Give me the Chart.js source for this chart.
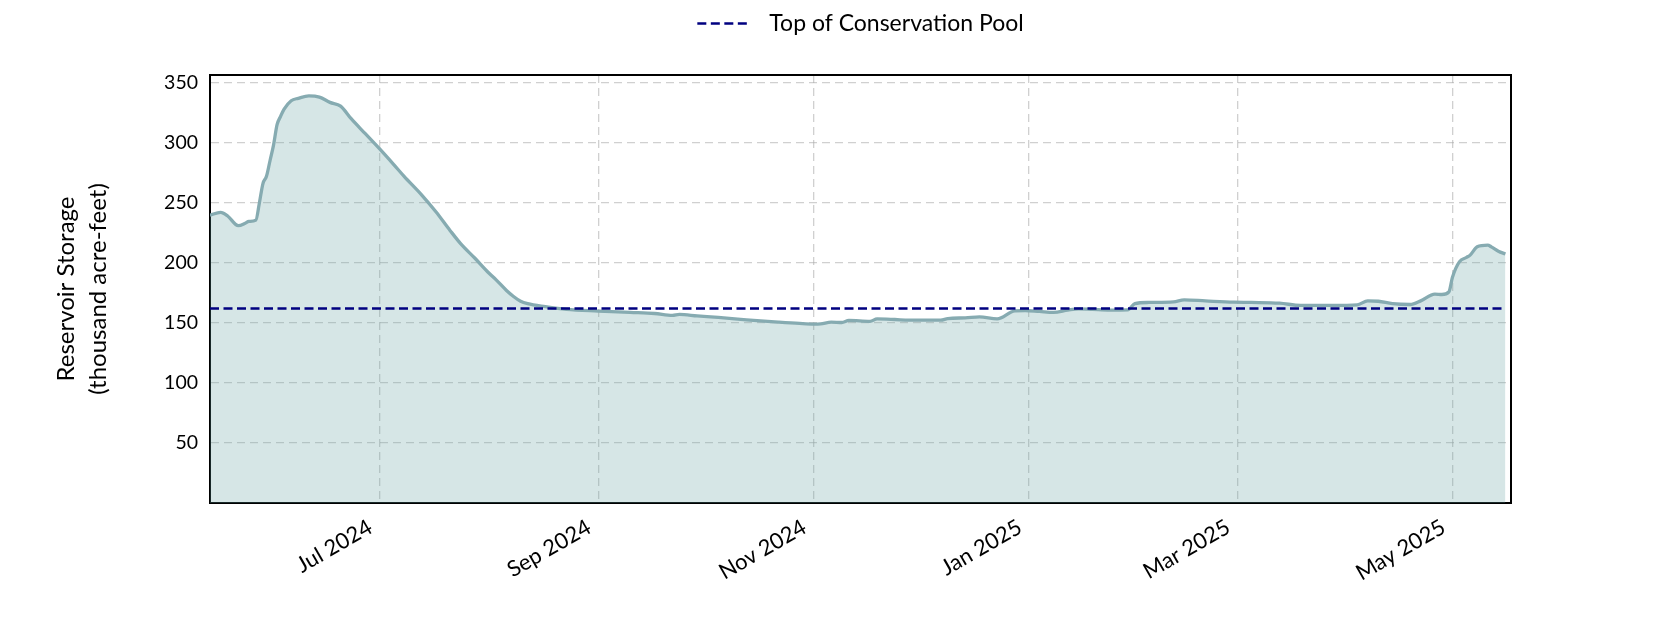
<!DOCTYPE html>
<html>
<head>
<meta charset="utf-8">
<script src="https://cdn.jsdelivr.net/npm/chart.js@4.4.1/dist/chart.umd.min.js"></script>
<style>
  html, body { margin: 0; padding: 0; background: #ffffff; }
  #wrap { width: 1680px; height: 630px; }
</style>
</head>
<body>
<div id="wrap"><canvas id="c" width="1680" height="630"></canvas></div>
<script>
// ---- data ----
const dates = [
  '2024-05-14','2024-05-17','2024-05-19','2024-05-22','2024-05-24','2024-05-25','2024-05-27','2024-05-28',
  '2024-05-29','2024-05-30','2024-05-31','2024-06-01','2024-06-02','2024-06-03','2024-06-04','2024-06-06',
  '2024-06-08','2024-06-11','2024-06-14','2024-06-17','2024-06-20','2024-06-23','2024-06-27','2024-07-01',
  '2024-07-05','2024-07-08','2024-07-13','2024-07-17','2024-07-21','2024-07-24','2024-07-28','2024-08-01',
  '2024-08-03','2024-08-06','2024-08-08','2024-08-10','2024-08-12','2024-08-17','2024-08-23','2024-09-01',
  '2024-09-10','2024-09-17','2024-09-22','2024-09-24','2024-09-29','2024-10-05','2024-10-13','2024-10-22',
  '2024-10-28','2024-11-01','2024-11-03','2024-11-06','2024-11-09','2024-11-11','2024-11-17','2024-11-19',
  '2024-11-24','2024-11-28','2024-12-07','2024-12-09','2024-12-14','2024-12-18','2024-12-23','2024-12-28',
  '2024-12-31','2025-01-04','2025-01-08','2025-01-12','2025-01-15','2025-01-19','2025-01-24','2025-01-29',
  '2025-01-31','2025-02-04','2025-02-11','2025-02-14','2025-02-20','2025-02-28','2025-03-05','2025-03-13',
  '2025-03-19','2025-03-28','2025-04-04','2025-04-07','2025-04-10','2025-04-14','2025-04-19','2025-04-22',
  '2025-04-26','2025-04-28','2025-04-30','2025-05-01','2025-05-03','2025-05-05','2025-05-06','2025-05-08',
  '2025-05-11','2025-05-12','2025-05-14','2025-05-16'
];
const storage = [
  239.7, 242.0, 239.0, 231.0, 233.0, 234.5, 235.6, 250.0,
  266.0, 272.0, 285.0, 298.0, 315.0, 322.0, 328.0, 335.0,
  337.0, 339.0, 338.0, 333.6, 330.5, 320.0, 307.5, 295.0,
  282.0, 272.0, 256.4, 242.5, 227.0, 216.0, 204.0, 191.5,
  186.0, 177.0, 172.0, 168.0, 166.0, 163.5, 161.2, 159.8,
  158.7, 157.8, 156.2, 157.0, 155.8, 154.5, 152.5, 150.6,
  149.5, 149.0, 149.2, 150.6, 150.3, 152.0, 151.2, 153.3,
  152.8, 152.2, 152.2, 153.6, 154.2, 155.0, 153.3, 160.0,
  160.3, 159.5, 158.7, 160.6, 161.7, 161.2, 160.6, 160.8,
  166.0, 167.0, 167.5, 169.2, 168.3, 167.2, 167.0, 166.4,
  164.5, 164.5, 165.0, 168.3, 168.0, 166.0, 165.3, 168.3,
  174.0, 173.6, 175.8, 188.0, 201.0, 204.5, 206.4, 213.3,
  214.7, 213.3, 209.7, 207.3
];
const conservationPool = 162;
const conservationLabel = 'Top of Conservation Pool';
const xTickDates = ['2024-07-01','2024-09-01','2024-11-01','2025-01-01','2025-03-01','2025-05-01'];
const xTickLabels = ['Jul 2024','Sep 2024','Nov 2024','Jan 2025','Mar 2025','May 2025'];
const yTicks = [50, 100, 150, 200, 250, 300, 350];
const yTitle = ['Reservoir Storage', '(thousand acre-feet)'];
const xMinDate = '2024-05-14';
const xMaxDate = '2025-05-17T14:00:00';
const yMin = 0, yMax = 356.4;

// ---- helpers ----
const DAY = 86400000;
const toDay = s => Date.parse(s + (s.length === 10 ? 'T00:00:00Z' : 'Z')) / DAY;
const storagePts = dates.map((d, i) => ({ x: toDay(d), y: storage[i] }));
const poolPts = [
  { x: toDay(dates[0]), y: conservationPool },
  { x: toDay(dates[dates.length - 1]), y: conservationPool }
];
const tickDays = xTickDates.map(toDay);

const FONT = 'Lato, "Open Sans", "DejaVu Sans", sans-serif';
const gridStyle = { color: 'rgba(170,170,170,0.55)', lineWidth: 1.3, drawTicks: false };

new Chart(document.getElementById('c'), {
  type: 'line',
  data: {
    datasets: [
      {
        label: 'Storage',
        data: storagePts,
        borderColor: '#86abb1',
        backgroundColor: 'rgba(95,158,160,0.26)',
        borderWidth: 3.3,
        fill: 'origin',
        pointRadius: 0,
        tension: 0.3,
        cubicInterpolationMode: 'monotone',
        order: 2
      },
      {
        label: conservationLabel,
        data: poolPts,
        borderColor: '#000080',
        backgroundColor: '#000080',
        borderWidth: 2.5,
        borderDash: [9, 4.5],
        fill: false,
        pointRadius: 0,
        order: 1
      }
    ]
  },
  options: {
    responsive: false,
    animation: false,
    devicePixelRatio: 1,
    layout: { padding: { left: 0, right: 169, top: 0, bottom: 0 } },
    plugins: {
      tooltip: { enabled: false },
      legend: {
        display: true,
        position: 'top',
        fullSize: false,
        labels: {
          filter: (item, data) => {
            if (item.text !== conservationLabel) return false;
            const ds = data.datasets[item.datasetIndex];
            // four dashes of the line style, then blank space before the text
            item.lineDash = [9, 4.5, 9, 4.5, 9, 4.5, 9, 40];
            item.lineWidth = ds.borderWidth;
            item.strokeStyle = ds.borderColor;
            return true;
          },
          usePointStyle: true,
          pointStyle: 'line',
          pointStyleWidth: 60.5,
          boxHeight: 20,
          padding: 12,
          color: '#000000',
          font: { family: FONT, size: 23 }
        }
      }
    },
    scales: {
      x: {
        type: 'linear',
        position: 'bottom',
        min: toDay(xMinDate),
        max: toDay(xMaxDate),
        afterFit: s => { s.height = 127; },
        afterBuildTicks: s => { s.ticks = tickDays.map(v => ({ value: v })); },
        grid: gridStyle,
        border: { display: true, color: '#000000', width: 2, dash: [8, 5] },
        ticks: {
          autoSkip: false,
          minRotation: 30,
          maxRotation: 30,
          padding: 11,
          labelOffset: -9,
          color: '#000000',
          font: { family: FONT, size: 22 },
          callback: v => {
            const i = tickDays.findIndex(t => Math.abs(t - v) < 0.01);
            return i >= 0 ? xTickLabels[i] : '';
          }
        }
      },
      x2: {
        type: 'linear',
        position: 'top',
        afterFit: s => { s.height = 30; },
        grid: { display: false, drawTicks: false },
        border: { display: true, color: '#000000', width: 2 },
        ticks: { display: false }
      },
      y: {
        type: 'linear',
        position: 'left',
        min: yMin,
        max: yMax,
        afterFit: s => { s.width = 210; },
        afterBuildTicks: s => { s.ticks = yTicks.map(v => ({ value: v })); },
        grid: gridStyle,
        border: { display: true, color: '#000000', width: 2, dash: [8, 5] },
        ticks: {
          padding: 12,
          color: '#000000',
          font: { family: FONT, size: 19.5 }
        },
        title: {
          display: true,
          text: yTitle,
          color: '#000000',
          font: { family: FONT, size: 24, lineHeight: '32px' },
          padding: { top: 50, bottom: 0 }
        }
      },
      y2: {
        type: 'linear',
        position: 'right',
        afterFit: s => { s.width = 0; },
        grid: { display: false, drawTicks: false },
        border: { display: true, color: '#000000', width: 2 },
        ticks: { display: false }
      }
    }
  }
});
</script>
</body>
</html>
